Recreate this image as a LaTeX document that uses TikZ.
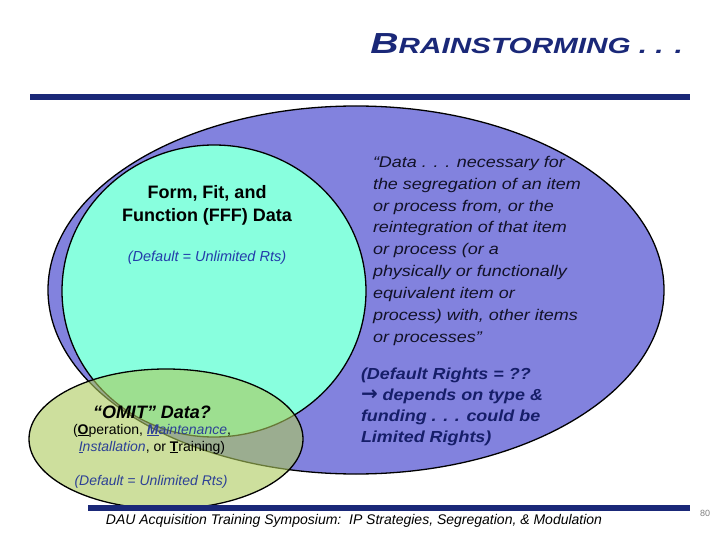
\documentclass[tikz,border=0pt]{standalone}
\usepackage{fontspec}
\setmainfont{Liberation Sans}
\newfontfamily\quotefont{Liberation Sans}[FakeStretch=1.16]
\newfontfamily\rightsfont{Liberation Sans}[FakeStretch=1.12]
\newfontfamily\titlefont{Liberation Sans}[FakeStretch=1.35]
\newfontfamily\arrowfont{DejaVu Sans}
\definecolor{bigblue}{RGB}{130,130,222}
\definecolor{aqua}{RGB}{136,255,222}
\definecolor{olivegreen}{RGB}{172,202,92}
\definecolor{navy}{RGB}{26,40,120}
\definecolor{darknavy}{RGB}{22,30,105}
\definecolor{txtblack}{RGB}{18,18,40}
\definecolor{defblue}{RGB}{35,60,170}
\definecolor{defblue2}{RGB}{45,65,150}
\tikzset{
  outline/.style={draw=black, line width=1.3pt},
  bar/.style={fill=navy, draw=none},
  txt/.style={inner sep=0pt, outer sep=0pt},
}
\begin{document}
\begin{tikzpicture}[x=1pt,y=-1pt]
\useasboundingbox (0,0) rectangle (720,540);
\fill[white] (0,0) rectangle (720,540);
% shapes
\draw[outline, fill=bigblue] (356,290) ellipse [x radius=308pt, y radius=184pt];
\draw[outline, fill=aqua] (214,291) ellipse [x radius=152pt, y radius=146pt];
\fill[olivegreen, fill opacity=0.6] (166,439) ellipse [x radius=137pt, y radius=70pt];
\draw[outline] (166,439) ellipse [x radius=137pt, y radius=70pt];
% bars
\fill[bar] (30,94) rectangle (690,100);
\fill[bar] (88,505) rectangle (690,511);
% title
\node[txt, anchor=base east, text=navy] (title) at (683,54)
  {\titlefont\bfseries\itshape{\fontsize{29}{29}\selectfont B}{\fontsize{22}{22}\selectfont RAINSTORMING . . .}};
% FFF
\node[txt, anchor=north, align=center, font=\fontsize{18}{23}\selectfont\bfseries, text=black] (fff) at (207,185)
  {Form, Fit, and\\Function (FFF) Data};
\node[txt, anchor=center, font=\fontsize{14.5}{17}\selectfont\itshape, text=defblue] (fffdef) at (207,258)
  {(Default = Unlimited Rts)};
% right quote
\node[txt, anchor=north west, align=left, font=\quotefont\fontsize{15.5}{21.9}\selectfont\itshape, text=txtblack] (quote) at (373,156)
  {“Data . . . necessary for\\the segregation of an item\\or process from, or the\\reintegration of that item\\or process (or a\\physically or functionally\\equivalent item or\\process) with, other items\\or processes”};
\node[txt, anchor=north west, align=left, font=\rightsfont\fontsize{16}{21}\selectfont\bfseries\itshape, text=darknavy] (rights) at (361,368)
  {(Default Rights = ??\\{\arrowfont\bfseries\upshape\fontsize{20}{21}\selectfont →} depends on type \&\\funding . . . could be\\Limited Rights)};
% OMIT
\node[txt, anchor=center, font=\fontsize{18}{21}\selectfont\bfseries\itshape, text=black] (omit) at (152,412)
  {“OMIT” Data?};
\node[txt, anchor=north, align=center, font=\fontsize{14}{17}\selectfont, text=black] (omitlist) at (152,424)
  {(\underline{\textbf{O}}peration, {\color{defblue2}\itshape\underline{\textbf{M}}aintenance},\\
   {\color{defblue2}\itshape\underline{I}nstallation}, or \underline{\textbf{T}}raining)};
\node[txt, anchor=center, font=\fontsize{14}{17}\selectfont\itshape, text=defblue2] (omitdef) at (151,482)
  {(Default = Unlimited Rts)};
% footer
\node[txt, anchor=center, font=\fontsize{14}{17}\selectfont\itshape, text=black] (footer) at (354,521)
  {DAU Acquisition Training Symposium:\ \ IP Strategies, Segregation, \& Modulation};
\node[txt, anchor=center, font=\fontsize{9}{10}\selectfont, text=gray] (page) at (705,513) {80};
\end{tikzpicture}
\end{document}
